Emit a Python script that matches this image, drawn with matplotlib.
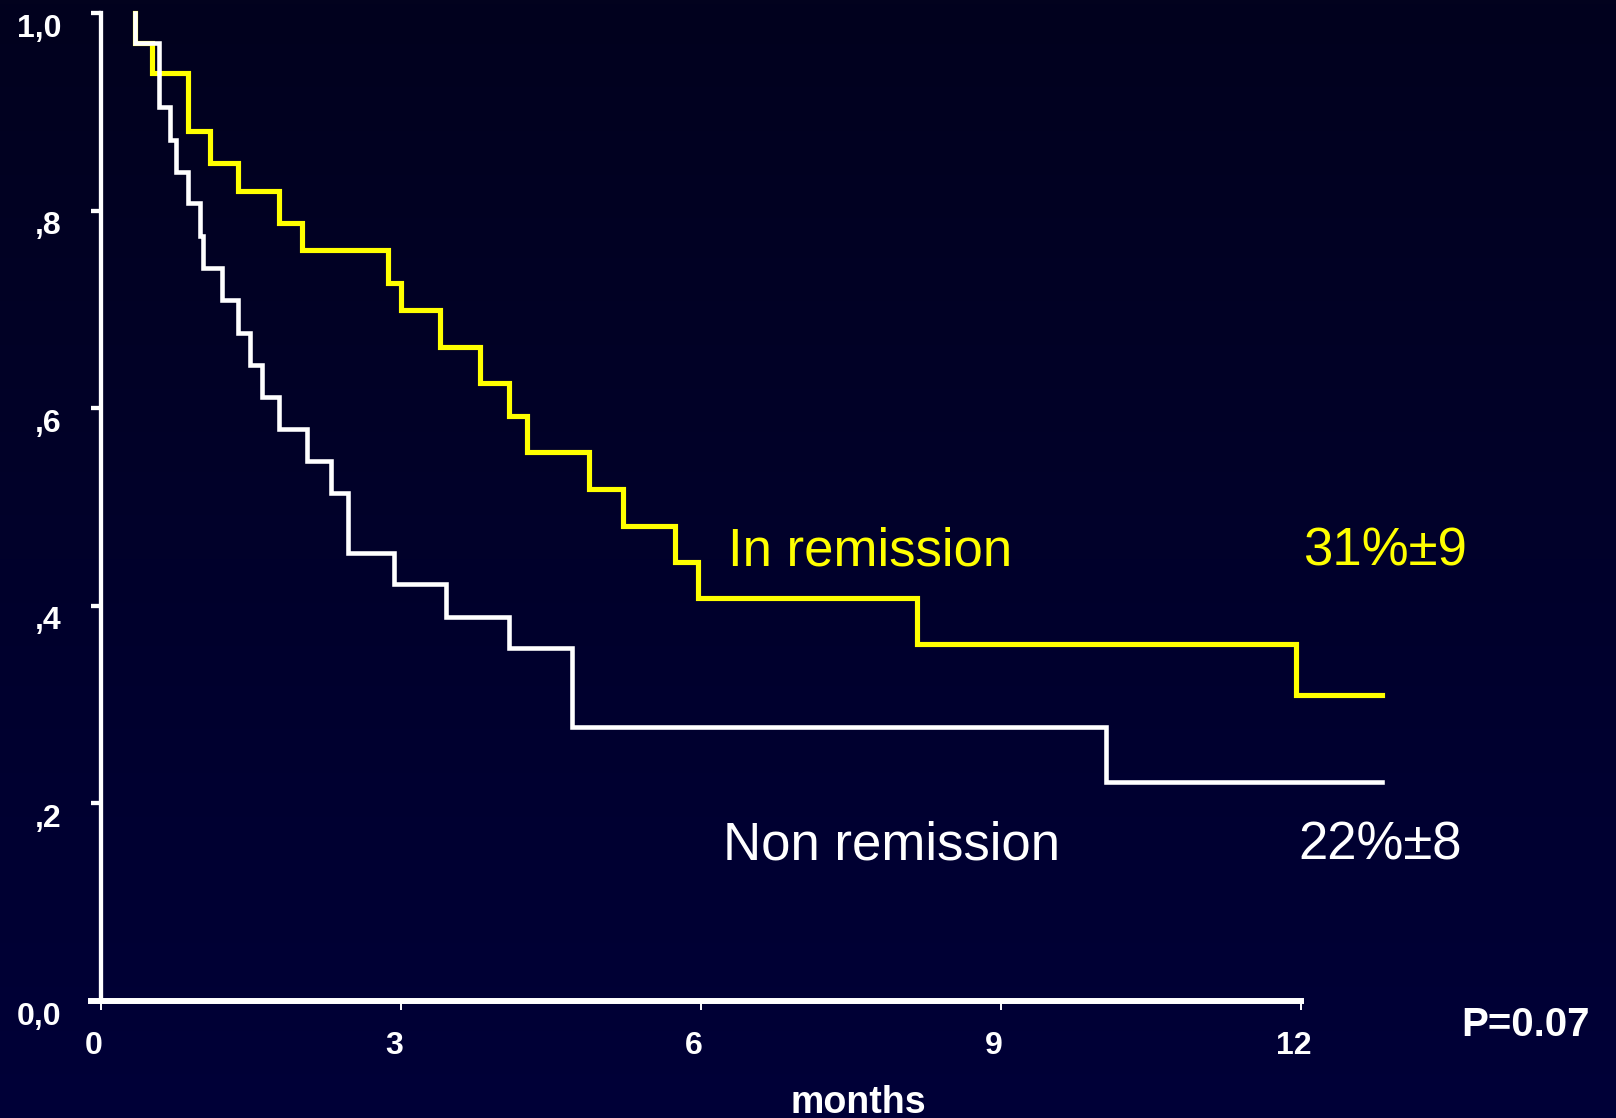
import numpy as np
import matplotlib
matplotlib.use("Agg")
import matplotlib.pyplot as plt
from matplotlib.transforms import ScaledTranslation
from matplotlib.colors import LinearSegmentedColormap

plt.rcParams['font.family'] = ['Liberation Sans', 'DejaVu Sans']

W, H, DPI = 1616, 1118, 100

# Kaplan-Meier estimates: event times (months) and survival after each event
remission_times = [0.34, 0.51, 0.87, 1.09, 1.37, 1.78, 2.01, 2.87, 3.00, 3.39,
                   3.79, 4.08, 4.26, 4.88, 5.22, 5.74, 5.97, 8.16, 11.95]
remission_surv = [0.970, 0.939, 0.881, 0.848, 0.820, 0.787, 0.760, 0.727, 0.699, 0.662,
                  0.626, 0.592, 0.556, 0.518, 0.481, 0.444, 0.408, 0.361, 0.310]
remission_end = 12.81

nonremission_times = [0.34, 0.58, 0.69, 0.75, 0.87, 0.99, 1.02, 1.21, 1.37, 1.49,
                      1.61, 1.78, 2.06, 2.30, 2.47, 2.93, 3.45, 4.08, 4.71, 10.05]
nonremission_surv = [0.970, 0.905, 0.871, 0.839, 0.808, 0.774, 0.742, 0.710, 0.676, 0.644,
                     0.611, 0.579, 0.547, 0.514, 0.453, 0.422, 0.389, 0.357, 0.277, 0.222]
nonremission_end = 12.81

y_ticks = [0.0, 0.2, 0.4, 0.6, 0.8, 1.0]
y_tick_labels = ["0,0", ",2", ",4", ",6", ",8", "1,0"]
x_ticks = [0, 3, 6, 9, 12]
x_tick_labels = ["0", "3", "6", "9", "12"]

YELLOW = "#ffff00"
WHITE = "#ffffff"

fig = plt.figure(figsize=(W / DPI, H / DPI), dpi=DPI)

# vertical navy gradient behind everything
bg = fig.add_axes([0, 0, 1, 1], zorder=-10)
grad = np.linspace(0, 1, 256).reshape(-1, 1)
cmap = LinearSegmentedColormap.from_list("bg", ["#02021e", "#000038"])
bg.imshow(grad, aspect="auto", cmap=cmap, extent=[0, 1, 0, 1], origin="upper")
bg.axis("off")

ax = fig.add_axes([101 / W, (H - 1001) / H, 1300 / W, 988 / H])
ax.set_facecolor("none")
ax.set_xlim(0, 13)
ax.set_ylim(0, 1)


def km_xy(times, surv, end):
    x = [times[0]] + list(times) + [end]
    y = [1.0] + list(surv) + [surv[-1]]
    return x, y


ax.step(*km_xy(remission_times, remission_surv, remission_end), where="post",
        color=YELLOW, lw=3.7, clip_on=False, solid_joinstyle="miter", zorder=3)
ax.step(*km_xy(nonremission_times, nonremission_surv, nonremission_end), where="post",
        color=WHITE, lw=3.3, clip_on=False, solid_joinstyle="miter", zorder=4)

for side in ("top", "right"):
    ax.spines[side].set_visible(False)
ax.spines["left"].set_bounds(0, 1)
ax.spines["left"].set_color(WHITE)
ax.spines["left"].set_linewidth(3.1)
ax.spines["bottom"].set_bounds(-0.1, 12)
ax.spines["bottom"].set_color(WHITE)
ax.spines["bottom"].set_linewidth(4.3)

ax.set_yticks(y_ticks)
ax.set_yticklabels(y_tick_labels, fontweight="bold")
ax.set_xticks(x_ticks)
ax.set_xticklabels(x_tick_labels, fontweight="bold")
ax.tick_params(axis="y", direction="out", length=7.2, width=3.1, color=WHITE,
               labelcolor=WHITE, labelsize=23, pad=21)
ax.tick_params(axis="x", direction="out", length=6.5, width=1.4, color=WHITE,
               labelcolor=WHITE, labelsize=23, pad=15)

for lab in ax.get_yticklabels():
    lab.set_transform(lab.get_transform() + ScaledTranslation(0, -12 / DPI, fig.dpi_scale_trans))
for lab in ax.get_xticklabels():
    lab.set_transform(lab.get_transform() + ScaledTranslation(-7 / DPI, 0, fig.dpi_scale_trans))


def ftext(x, y, s, **kw):
    fig.text(x / W, 1 - y / H, s, **kw)


ftext(858, 1113, "months", ha="center", va="baseline", fontsize=27,
      fontweight="bold", color=WHITE)
ftext(1526, 1025, "P=0.07", ha="center", va="center", fontsize=29,
      fontweight="bold", color=WHITE)

ftext(728, 565, "In remission", ha="left", va="baseline", fontsize=38, color=YELLOW)
ftext(1303, 565, "31%\u00b19", ha="left", va="baseline", fontsize=38, color=YELLOW)
ftext(723, 859, "Non remission", ha="left", va="baseline", fontsize=38, color=WHITE)
ftext(1298, 859, "22%\u00b18", ha="left", va="baseline", fontsize=38, color=WHITE)

fig.savefig("out.png", dpi=DPI)
